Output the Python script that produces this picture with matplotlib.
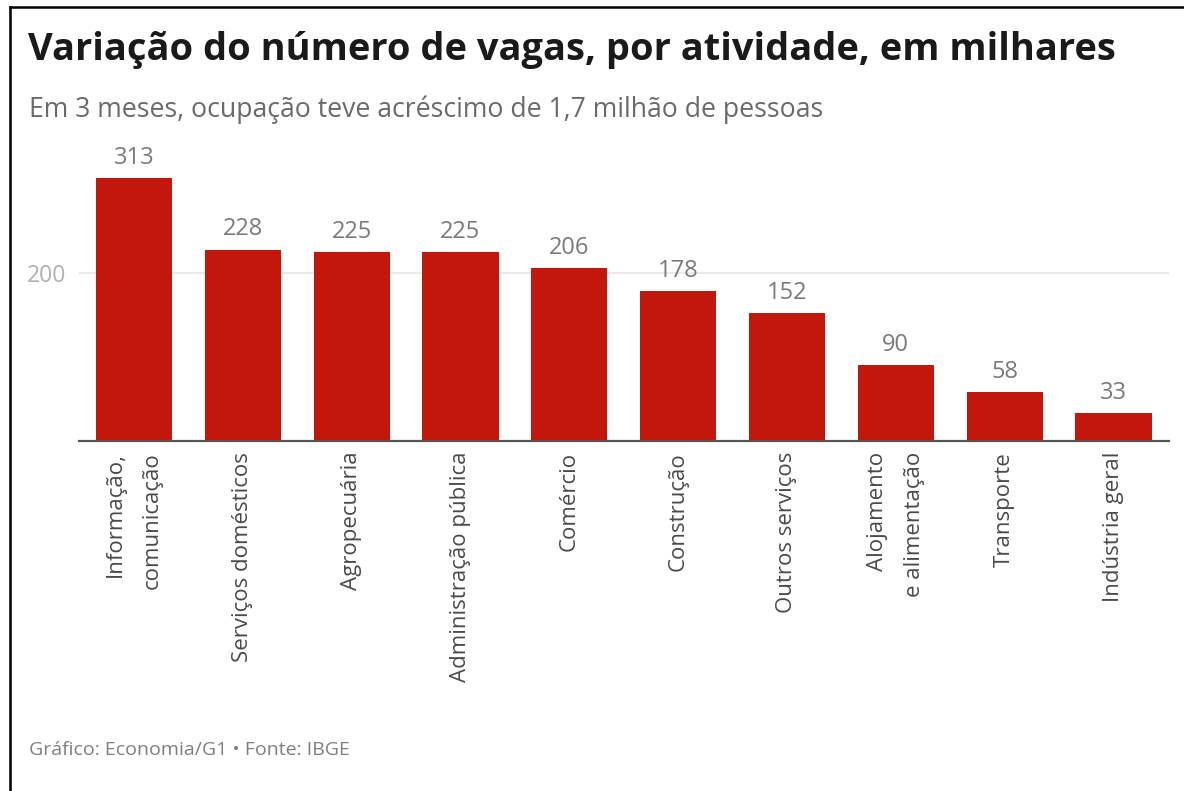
import matplotlib
matplotlib.use("Agg")
import matplotlib.pyplot as plt
from matplotlib.lines import Line2D

plt.rcParams['font.family'] = ['Open Sans', 'DejaVu Sans']

# Data: change in jobs by activity (thousands)
categories = [
    "Informação,\ncomunicação",
    "Serviços domésticos",
    "Agropecuária",
    "Administração pública",
    "Comércio",
    "Construção",
    "Outros serviços",
    "Alojamento\ne alimentação",
    "Transporte",
    "Indústria geral",
]
values = [313, 228, 225, 225, 206, 178, 152, 90, 58, 33]
y_ticks = [200]

title = "Variação do número de vagas, por atividade, em milhares"
subtitle = "Em 3 meses, ocupação teve acréscimo de 1,7 milhão de pessoas"
footer = "Gráfico: Economia/G1 • Fonte: IBGE"

W, H = 1184, 791
fig = plt.figure(figsize=(W / 100, H / 100), dpi=100)
fig.patch.set_facecolor("white")

# axes placement in pixels
ax_left, ax_right = 79, 1169
ax_base, ax_top = 440.7, 155.6
ax = fig.add_axes([ax_left / W, (H - ax_base) / H,
                   (ax_right - ax_left) / W, (ax_base - ax_top) / H])

ymax = (ax_base - ax_top) / 0.8385
x = list(range(len(categories)))
ax.bar(x, values, width=0.70, color="#c4170c", zorder=3)

ax.set_xlim(-0.505, len(categories) - 1 + 0.51)
ax.set_ylim(0, ymax)

for xi, v in zip(x, values):
    ax.annotate(f"{v}", (xi, v), xytext=(0, 6), textcoords="offset points",
                ha="center", va="bottom", fontsize=17, color="#7a7a7a")

ax.set_yticks(y_ticks)
ax.set_yticklabels([str(t) for t in y_ticks], fontsize=16.5, color="#b0b0b0")
ax.yaxis.grid(True, color="#e6e6e6", linewidth=1.2, zorder=0)
ax.tick_params(axis="y", length=0, pad=9)

ax.set_xticks(x)
ax.set_xticklabels(categories, rotation=90, ha="center", va="top",
                   fontsize=16, color="#4a4a4a", linespacing=2.0)
for lbl in ax.get_xticklabels():
    lbl.set_multialignment("right")
ax.tick_params(axis="x", length=0, pad=8)

for side in ("top", "right", "left"):
    ax.spines[side].set_visible(False)
ax.spines["bottom"].set_color("#555555")
ax.spines["bottom"].set_linewidth(1.6)
ax.spines["bottom"].set_zorder(4)

fig.text(28 / W, 1 - 60 / H, title, fontsize=27.4, fontweight="bold",
         color="#1a1a1a", ha="left", va="baseline")
fig.text(29 / W, 1 - 117 / H, subtitle, fontsize=19.2,
         color="#6a6a6a", ha="left", va="baseline")
fig.text(29 / W, 1 - 750 / H, footer, fontsize=14,
         color="#808080", ha="left", va="center")

# frame lines along left and top edges
fig.add_artist(Line2D([9.5 / W, 9.5 / W], [0, 1 - 7 / H], color="black",
                      linewidth=1.8, transform=fig.transFigure))
fig.add_artist(Line2D([9.5 / W, 1], [1 - 7 / H, 1 - 7 / H], color="black",
                      linewidth=1.8, transform=fig.transFigure))

fig.savefig("out.png", dpi=100, facecolor="white")
